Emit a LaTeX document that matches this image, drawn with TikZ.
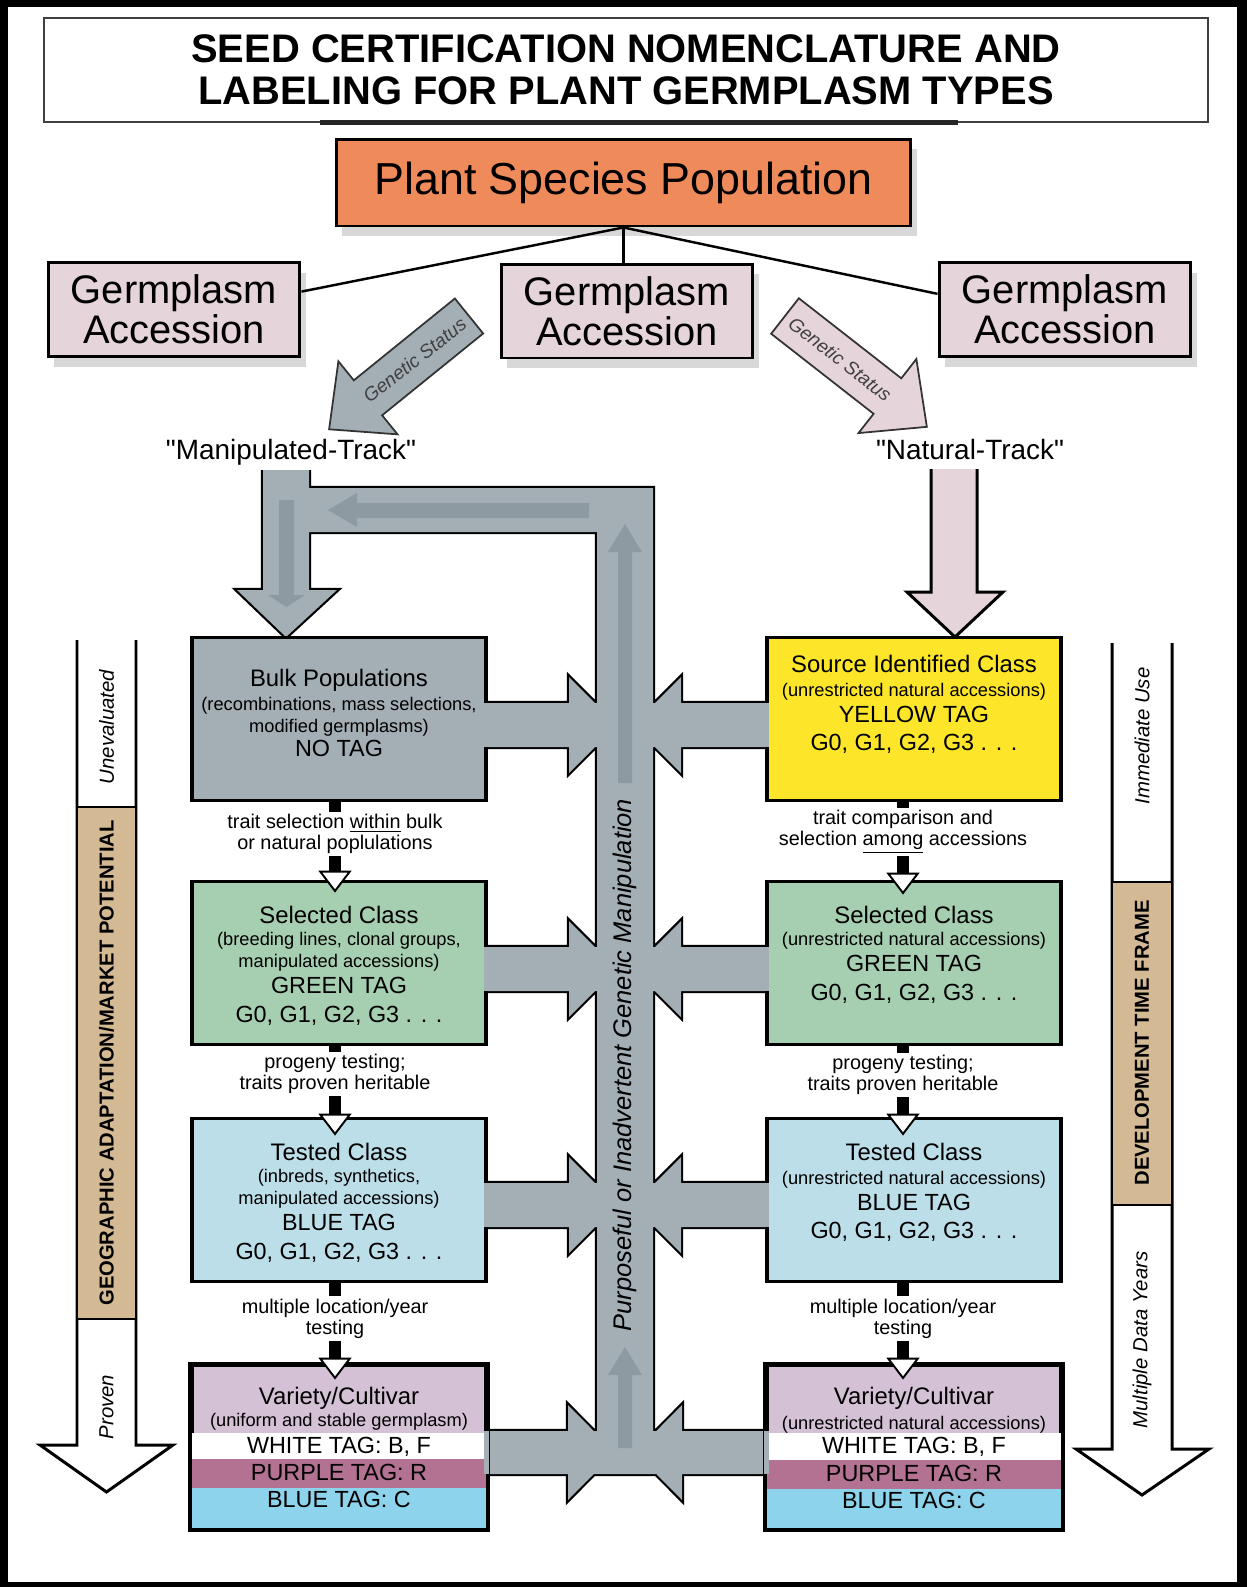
\documentclass[tikz,border=0pt]{standalone}
\usepackage{fontspec}
\setmainfont{Liberation Sans}
\newfontfamily\trkfam{Liberation Sans}
\usetikzlibrary{arrows.meta,shadows}

\definecolor{trackgray}{HTML}{A3AFB5}
\definecolor{innergray}{HTML}{8D9AA1}
\definecolor{accpink}{HTML}{E6D4DB}
\definecolor{psporange}{HTML}{EF8A5A}
\definecolor{selgreen}{HTML}{A6CFB1}
\definecolor{testblue}{HTML}{BCDEE9}
\definecolor{srcyellow}{HTML}{FDE52A}
\definecolor{varlilac}{HTML}{D4C1D5}
\definecolor{tagpurple}{HTML}{B47293}
\definecolor{tagblue}{HTML}{8DD3EC}
\definecolor{bartan}{HTML}{D3B994}

\newcommand\ttlfont{\fontsize{22.7}{23.8}\selectfont\bfseries}
\newcommand\pspfont{\fontsize{25.5}{28}\selectfont}
\newcommand\accfont{\fontsize{22.7}{22.7}\selectfont}
\newcommand\trkfont{\trkfam\fontsize{15.9}{18}\selectfont}
\newcommand\gsfont{\fontsize{10.8}{12}\selectfont\itshape}
\newcommand\hdfont{\fontsize{13.6}{16}\selectfont}
\newcommand\subtxt{\fontsize{10.4}{12.5}\selectfont}
\newcommand\tagtxt{\fontsize{13.3}{16}\selectfont}
\newcommand\cnfont{\fontsize{11.3}{11.9}\selectfont}
\newcommand\sidefont{\fontsize{11.6}{13}\selectfont\itshape}
\newcommand\sidebold{\fontsize{11.5}{13}\selectfont\bfseries}
\newcommand\pgmfont{\fontsize{14.5}{16}\selectfont\itshape}

\tikzset{
  accbox/.style={draw=black, line width=1.7pt, fill=accpink, minimum width=5.04cm,
    minimum height=1.88cm, align=center, font=\accfont, inner sep=0pt,
    drop shadow={shadow xshift=0.12cm, shadow yshift=-0.2cm, opacity=0.3}},
  classbox/.style={draw=black, line width=2.2pt, minimum width=5.88cm,
    minimum height=3.26cm, inner sep=0pt},
  boxtext/.style={anchor=north, align=center, inner sep=0pt, font=\subtxt},
  tagline/.style={line width=6.8pt,
    -{Triangle[width=0.66cm, length=0.44cm, fill=white, line width=1.1pt]}},
  cnlabel/.style={fill=white, align=center, inner sep=1.5pt, font=\cnfont},
  sidearrow/.style={draw=black, line width=1.7pt, fill=white},
  sidebar/.style={draw=black, line width=1.2pt, fill=bartan},
  statusarrow/.style={draw=black!80, line width=1pt},
}

\begin{document}
\begin{tikzpicture}[x=0.02cm, y=-0.02cm]
% frame
\fill[black] (0,0) rectangle (1247,1587);
\fill[white] (8,7) rectangle (1237,1582);
\useasboundingbox (0,0) rectangle (1247,1587);

% title
\node[draw=black!75, line width=0.9pt, minimum width=23.28cm, minimum height=2.08cm,
  align=center, font=\ttlfont, inner sep=0pt] (title) at (626,70)
  {SEED CERTIFICATION NOMENCLATURE AND\\LABELING FOR PLANT GERMPLASM TYPES};
\fill[black!85] (320,120) rectangle (958,125);

% species and accessions
\node[draw=black, line width=1.7pt, fill=psporange, minimum width=11.5cm,
  minimum height=1.74cm, font=\pspfont,
  drop shadow={shadow xshift=0.12cm, shadow yshift=-0.2cm, opacity=0.3}] (psp)
  at (623.5,182.5) {Plant Species Population};
\node[accbox] (acc-l) at (174,309.5) {Germplasm\\Accession};
\node[accbox] (acc-m) at (627,311) {Germplasm\\Accession};
\node[accbox] (acc-r) at (1065,309.5) {Germplasm\\Accession};
\draw[line width=1.4pt] (psp.south) -- (acc-l.8);
\draw[line width=1.4pt] (psp.south) -- (psp.south |- acc-m.north);
\draw[line width=1.4pt] (psp.south) -- (acc-r.173);

% genetic status arrows
\begin{scope}[shift={(469,316)}, rotate=219]
  \draw[statusarrow, fill=trackgray] (0,-22.5) -- (130,-22.5) -- (130,-47) -- (180,0)
    -- (130,47) -- (130,22.5) -- (0,22.5) -- cycle;
  \node[font=\gsfont, text=black!75, rotate=38] (gs-l) at (70,0) {Genetic Status};
\end{scope}
\begin{scope}[shift={(785,316)}, rotate=-38]
  \draw[statusarrow, fill=accpink] (0,-22.5) -- (130,-22.5) -- (130,-47) -- (180,0)
    -- (130,47) -- (130,22.5) -- (0,22.5) -- cycle;
  \node[font=\gsfont, text=black!75, rotate=-38] (gs-r) at (70,0) {Genetic Status};
\end{scope}

\node[font=\trkfont] (man) at (291,452) {"Manipulated-Track"};
\node[font=\trkfont] (nat) at (970,450) {"Natural-Track"};

% manipulation flow: outline first, fill on top
\path[fill=trackgray, preaction={draw=black, line width=2.5pt}]
  (263,470) -- (309,470) -- (309,590) -- (337,590) -- (286,637) -- (237,590) -- (263,590) -- cycle
  (309,488) -- (653,488) -- (653,532) -- (309,532) -- cycle
  (597,488) -- (653,488) -- (653,1452) -- (597,1452) -- cycle
  (483,703) -- (769,703) -- (769,747) -- (483,747) -- cycle
  (483,947) -- (769,947) -- (769,991) -- (483,991) -- cycle
  (483,1183) -- (769,1183) -- (769,1227) -- (483,1227) -- cycle
  (483,1431) -- (769,1431) -- (769,1474) -- (483,1474) -- cycle
  (569,677) -- (617,725) -- (569,773) -- cycle
  (569,921) -- (617,969) -- (569,1017) -- cycle
  (569,1157) -- (617,1205) -- (569,1253) -- cycle
  (568,1405) -- (615,1452.5) -- (568,1500) -- cycle
  (681,677) -- (681,773) -- (633,725) -- cycle
  (681,921) -- (681,1017) -- (633,969) -- cycle
  (681,1157) -- (681,1253) -- (633,1205) -- cycle
  (682,1405) -- (682,1500) -- (635,1452.5) -- cycle;
\fill[white] (258,463) rectangle (314,470);
\fill[innergray] (589,503) -- (357,503) -- (357,493) -- (328,510) -- (357,527) -- (357,518) -- (589,518) -- cycle;
\fill[innergray] (279,500) -- (294,500) -- (294,595) -- (305,595) -- (286.5,607) -- (268,595) -- (279,595) -- cycle;
\fill[innergray] (618,783) -- (618,552) -- (608,552) -- (625,524) -- (642,552) -- (632,552) -- (632,783) -- cycle;
\fill[innergray] (618,1448) -- (618,1375) -- (608,1375) -- (625,1347) -- (642,1375) -- (632,1375) -- (632,1448) -- cycle;
\node[font=\pgmfont, rotate=90] (pgm) at (625,1065) {Purposeful or Inadvertent Genetic Manipulation};

\draw[line width=1.7pt, fill=accpink] (931,469) -- (931,592) -- (907,592) -- (955,637)
  -- (1003,592) -- (977,592) -- (977,469);

% classes
\node[classbox, fill=trackgray] (bulk) at (339,719) {};
\node[classbox, fill=srcyellow] (src) at (914,719) {};
\node[classbox, fill=selgreen] (sel-l) at (339,963) {};
\node[classbox, fill=selgreen] (sel-r) at (914,963) {};
\node[classbox, fill=testblue] (tst-l) at (339,1200) {};
\node[classbox, fill=testblue] (tst-r) at (914,1200) {};
\node[classbox, fill=varlilac] (var-l) at (339,1447) {};
\node[classbox, fill=varlilac] (var-r) at (914,1447) {};

\fill[white] (192,1433) rectangle (486,1459);
\fill[tagpurple] (192,1459) rectangle (486,1488);
\fill[tagblue] (192,1488) rectangle (486,1528);
\fill[white] (766,1433) rectangle (1061,1460);
\fill[tagpurple] (766,1460) rectangle (1061,1489);
\fill[tagblue] (766,1489) rectangle (1061,1528);
\draw[line width=2.2pt] (var-l.north west) rectangle (var-l.south east);
\draw[line width=2.2pt] (var-r.north west) rectangle (var-r.south east);

% shafts run into the boxes
\fill[trackgray] (484,703) rectangle (488.5,747);
\fill[trackgray] (484,947) rectangle (488.5,991);
\fill[trackgray] (484,1183) rectangle (488.5,1227);
\fill[trackgray] (484,1431) rectangle (488.5,1474);
\fill[trackgray] (764,703) rectangle (768.5,747);
\fill[trackgray] (764,947) rectangle (768.5,991);
\fill[trackgray] (764,1183) rectangle (768.5,1227);
\fill[trackgray] (764,1431) rectangle (768.5,1474);

\node[boxtext] (bulk-t) at (339,669) {{\hdfont Bulk Populations}\\[1pt]
  (recombinations, mass selections,\\modified germplasms)\\[1.4pt]{\tagtxt NO TAG}};
\node[boxtext] (src-t) at (914,655) {{\hdfont Source Identified Class}\\[1pt]
  (unrestricted natural accessions)\\[2.5pt]{\tagtxt YELLOW TAG}\\[3.5pt]{\tagtxt G0, G1, G2, G3 . . .}};
\node[boxtext] (sel-l-t) at (339,906) {{\hdfont Selected Class}\\
  (breeding lines, clonal groups,\\manipulated accessions)\\[2.5pt]{\tagtxt GREEN TAG}\\[3.5pt]{\tagtxt G0, G1, G2, G3 . . .}};
\node[boxtext] (sel-r-t) at (914,906) {{\hdfont Selected Class}\\
  (unrestricted natural accessions)\\[2.5pt]{\tagtxt GREEN TAG}\\[3.5pt]{\tagtxt G0, G1, G2, G3 . . .}};
\node[boxtext] (tst-l-t) at (339,1143) {{\hdfont Tested Class}\\
  (inbreds, synthetics,\\manipulated accessions)\\[2.5pt]{\tagtxt BLUE TAG}\\[3.5pt]{\tagtxt G0, G1, G2, G3 . . .}};
\node[boxtext] (tst-r-t) at (914,1143) {{\hdfont Tested Class}\\[1pt]
  (unrestricted natural accessions)\\[2.5pt]{\tagtxt BLUE TAG}\\[3.5pt]{\tagtxt G0, G1, G2, G3 . . .}};
\node[boxtext] (var-l-t) at (339,1387) {{\hdfont Variety/Cultivar}\\
  (uniform and stable germplasm)\\[2.5pt]{\tagtxt WHITE TAG: B, F}\\[3pt]{\tagtxt PURPLE TAG: R}\\[3pt]{\tagtxt BLUE TAG: C}};
\node[boxtext] (var-r-t) at (914,1387) {{\hdfont Variety/Cultivar}\\[1.5pt]
  (unrestricted natural accessions)\\[1.5pt]{\tagtxt WHITE TAG: B, F}\\[3pt]{\tagtxt PURPLE TAG: R}\\[3pt]{\tagtxt BLUE TAG: C}};

% steps between classes
\draw[tagline] ([xshift=-0.08cm]bulk.south) -- node[cnlabel, pos=0.35] (step-1l)
  {trait selection \underline{within} bulk\\or natural poplulations} ([xshift=-0.08cm, yshift=-0.26cm]sel-l.north);
\draw[tagline] ([xshift=-0.08cm]sel-l.south) -- node[cnlabel, pos=0.31] (step-2l)
  {progeny testing;\\traits proven heritable} ([xshift=-0.08cm, yshift=-0.38cm]tst-l.north);
\draw[tagline] ([xshift=-0.08cm]tst-l.south) -- node[cnlabel, pos=0.365] (step-3l)
  {multiple location/year\\testing} ([xshift=-0.08cm, yshift=-0.32cm]var-l.north);
\draw[tagline] ([xshift=-0.22cm]src.south) -- node[cnlabel, pos=0.32] (step-1r)
  {trait comparison and\\selection \underline{among} accessions} ([xshift=-0.22cm, yshift=-0.3cm]sel-r.north);
\draw[tagline] ([xshift=-0.22cm]sel-r.south) -- node[cnlabel, pos=0.32] (step-2r)
  {progeny testing;\\traits proven heritable} ([xshift=-0.22cm, yshift=-0.38cm]tst-r.north);
\draw[tagline] ([xshift=-0.22cm]tst-r.south) -- node[cnlabel, pos=0.365] (step-3r)
  {multiple location/year\\testing} ([xshift=-0.22cm, yshift=-0.32cm]var-r.north);

% side scales
\draw[sidearrow] (77,640) -- (77,1445) -- (40,1445) -- (106.5,1492) -- (173,1445) -- (136,1445) -- (136,640);
\draw[sidebar] (77,807) rectangle (136,1319);
\node[font=\sidefont, rotate=90] (unev) at (106.5,727) {Unevaluated};
\node[font=\sidebold, rotate=90] (geo) at (106.5,1063) {GEOGRAPHIC ADAPTATION/MARKET POTENTIAL};
\node[font=\sidefont, rotate=90] (prov) at (106.5,1407) {Proven};

\draw[sidearrow] (1112,643) -- (1112,1449) -- (1076,1449) -- (1142,1495) -- (1209,1449) -- (1172,1449) -- (1172,643);
\draw[sidebar] (1112,882) rectangle (1172,1205);
\node[font=\sidefont, rotate=90] (immu) at (1142,736) {Immediate Use};
\node[font=\sidebold, rotate=90] (dev) at (1142,1043) {DEVELOPMENT TIME FRAME};
\node[font=\sidefont, rotate=90] (mdy) at (1142,1340) {Multiple Data Years};
\end{tikzpicture}
\end{document}
